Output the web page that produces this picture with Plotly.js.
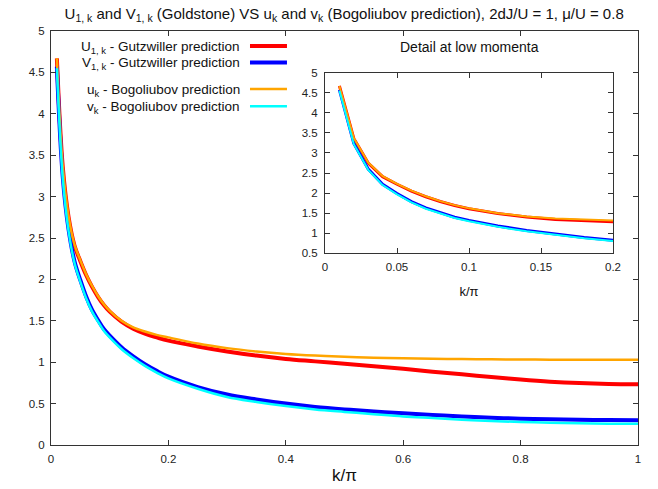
<!DOCTYPE html>
<html>
<head>
<meta charset="utf-8">
<script src="https://cdn.plot.ly/plotly-3.0.1.min.js"></script>
<style>html,body{margin:0;padding:0;background:#fff}#chart{width:658px;height:489px}</style>
</head>
<body>
<div id="chart"></div>
<script>
var k = [0.01,0.02,0.03,0.04,0.05,0.06,0.07,0.08,0.09,0.10,0.12,0.14,0.16,0.18,0.20,0.25,0.30,0.35,0.40,0.45,0.50,0.55,0.60,0.65,0.70,0.75,0.80,0.85,0.90,0.95,1.00];
var U_gutz = [4.67,3.36,2.75,2.41,2.22,2.05,1.91,1.79,1.69,1.61,1.49,1.405,1.345,1.30,1.26,1.19,1.13,1.08,1.04,1.01,0.98,0.95,0.92,0.885,0.855,0.82,0.79,0.765,0.748,0.738,0.735];
var V_gutz = [4.57,3.24,2.60,2.22,1.99,1.79,1.63,1.51,1.40,1.32,1.18,1.07,0.975,0.895,0.825,0.70,0.61,0.55,0.50,0.46,0.43,0.405,0.383,0.362,0.345,0.330,0.318,0.310,0.304,0.301,0.300];
var u_bog = [4.67,3.37,2.76,2.42,2.23,2.06,1.92,1.80,1.70,1.62,1.50,1.42,1.37,1.33,1.30,1.225,1.17,1.13,1.10,1.08,1.065,1.055,1.047,1.042,1.038,1.035,1.033,1.031,1.030,1.029,1.029];
var v_bog = [4.55,3.22,2.58,2.20,1.97,1.77,1.61,1.49,1.38,1.30,1.16,1.05,0.955,0.875,0.805,0.68,0.58,0.52,0.47,0.43,0.40,0.372,0.345,0.325,0.305,0.290,0.278,0.270,0.262,0.258,0.257];

var legendLabels = ['U<sub>1, k</sub> - Gutzwiller prediction','V<sub>1, k</sub> - Gutzwiller prediction','u<sub>k</sub> - Bogoliubov prediction','v<sub>k</sub> - Bogoliubov prediction'];
var titleText = 'U<sub>1, k</sub> and V<sub>1, k</sub> (Goldstone) VS u<sub>k</sub> and v<sub>k</sub> (Bogoliubov prediction), 2dJ/U = 1, μ/U = 0.8';
var insetTitle = 'Detail at low momenta';

var series = [U_gutz, V_gutz, u_bog, v_bog];
var colors = ['#ff0000','#0000ff','#ffa500','#00ffff'];
var widths = [4, 4, 2.5, 2.5];
var insetWidths = [3, 3, 2, 2];

var FONT = 'Liberation Sans, Arial, sans-serif';
var traces = [];
series.forEach(function(s, i){
  traces.push({x:k, y:s, type:'scatter', mode:'lines', line:{color:colors[i], width:widths[i], shape:'spline', smoothing:1}, xaxis:'x', yaxis:'y', showlegend:false, hoverinfo:'skip'});
});
series.forEach(function(s, i){
  traces.push({x:k, y:s, type:'scatter', mode:'lines', line:{color:colors[i], width:insetWidths[i]}, xaxis:'x2', yaxis:'y2', showlegend:false, hoverinfo:'skip'});
});

var axisCommon = {showline:true, linecolor:'#333', linewidth:1, mirror:'ticks', ticks:'inside', ticklen:5, tickcolor:'#333', showgrid:false, zeroline:false, tickfont:{family:FONT, size:11.5, color:'#222'}};

// legend drawn as annotations + sample lines (paper coordinates)
var legY = [0.961, 0.921, 0.857, 0.815];
var annotations = [];
var shapes = [];
legendLabels.forEach(function(t, i){
  annotations.push({text:t, xref:'paper', yref:'paper', x:0.326, y:legY[i], xanchor:'right', yanchor:'middle', showarrow:false, font:{family:FONT, size:13.5, color:'#111'}});
  shapes.push({type:'line', xref:'paper', yref:'paper', x0:0.339, x1:0.402, y0:legY[i]+0.003, y1:legY[i]+0.003, line:{color:colors[i], width:widths[i]}});
});
annotations.push({text:insetTitle, xref:'paper', yref:'paper', x:0.7125, y:0.961, xanchor:'center', yanchor:'middle', showarrow:false, font:{family:FONT, size:14, color:'#111'}});

var layout = {
  width:658, height:489,
  margin:{l:51, r:20, t:31, b:44},
  paper_bgcolor:'#fff', plot_bgcolor:'rgba(0,0,0,0)',
  title:{text:titleText, font:{family:FONT, size:15, color:'#111'}, x:0.523, xanchor:'center', xref:'container', y:0.972, yref:'container', yanchor:'middle'},
  xaxis: Object.assign({}, axisCommon, {range:[0,1], dtick:0.2, tick0:0, domain:[0,1], anchor:'y', ticklabelstandoff:3,
    title:{text:'k/π', font:{family:FONT, size:17, color:'#111'}, standoff:5}}),
  yaxis: Object.assign({}, axisCommon, {range:[0,5], dtick:0.5, tick0:0, domain:[0,1], anchor:'x', ticklabelstandoff:3}),
  xaxis2: Object.assign({}, axisCommon, {range:[0,0.2], dtick:0.05, tick0:0, domain:[0.4668,0.9574], anchor:'y2', ticklabelstandoff:3,
    title:{text:'k/π', font:{family:FONT, size:13, color:'#111'}, standoff:14}}),
  yaxis2: Object.assign({}, axisCommon, {range:[0.5,5], dtick:0.5, tick0:0.5, domain:[0.463,0.8993], anchor:'x2', ticklabelstandoff:4}),
  annotations:annotations,
  shapes:shapes,
  showlegend:false
};

Plotly.newPlot('chart', traces, layout, {staticPlot:true, displayModeBar:false});
</script>
</body>
</html>
